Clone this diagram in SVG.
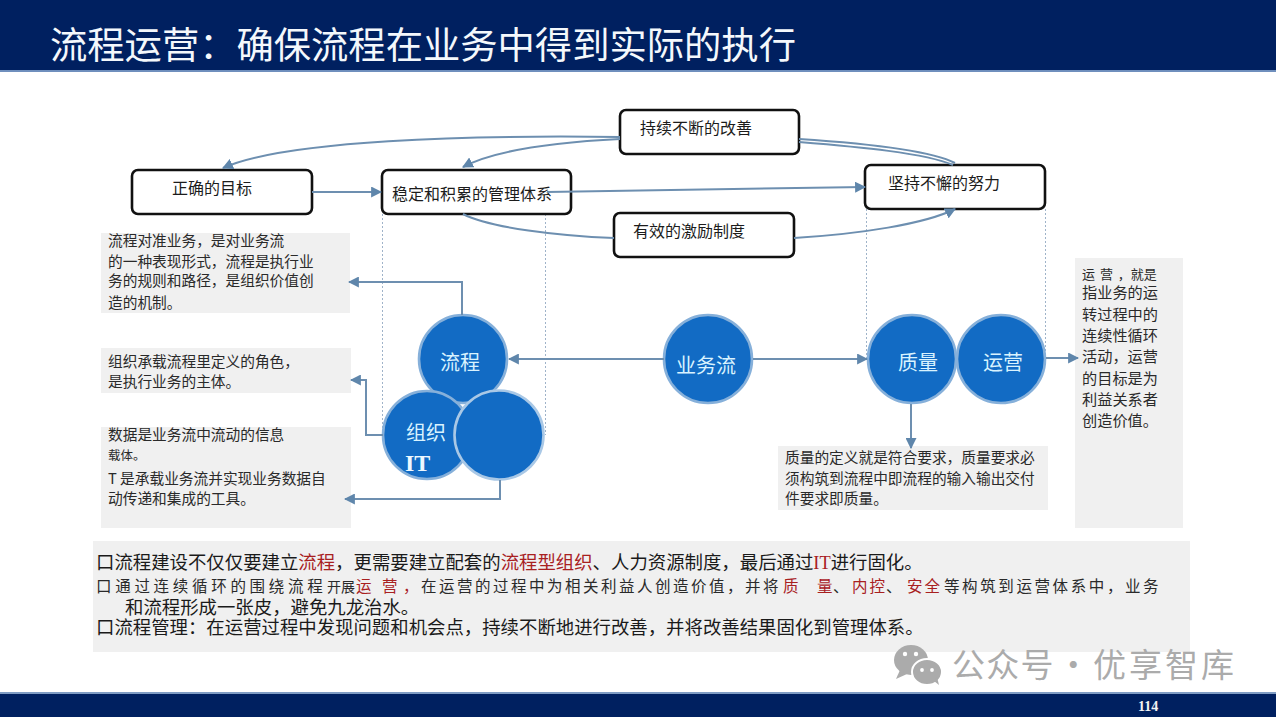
<svg xmlns="http://www.w3.org/2000/svg" width="1276" height="717" viewBox="0 0 1276 717">
<style>
text{font-family:"Noto Sans CJK SC","Liberation Sans",sans-serif;fill:#1c1c1c}
.box{fill:#fff;stroke:#111;stroke-width:2.6}
.bl{font-size:16px}
.note{fill:#f0f0f0}
.nt{font-size:14.7px;fill:#2a2a2a}
.c{fill:#126bc4;stroke:#86b0da;stroke-width:2.6}
.ct{font-size:20px;fill:#d9f3ff}
.l{fill:none;stroke:#6d8fb0;stroke-width:2}
.d{fill:none;stroke:#9fb3c9;stroke-width:1;stroke-dasharray:2 2}
.b{font-size:18.4px;fill:#1a1a1a}
.s{font-size:15.5px;fill:#2a2a2a}
.r{fill:#a8201f}
.wm{font-size:33px;fill:#ababab;letter-spacing:1.2px;word-spacing:-6.5px}
</style>
<defs>
<marker id="a" viewBox="0 0 10 10" refX="9" refY="5" markerWidth="11" markerHeight="11" markerUnits="userSpaceOnUse" orient="auto"><path d="M0 0L10 5L0 10z" fill="#5f86ab"/></marker>
</defs>
<rect width="1276" height="717" fill="#fff"/>
<g id="header"><rect width="1276" height="71" fill="#002060"/><rect y="70" width="1276" height="2" fill="#6f8fbd"/>
<text x="50" y="59" font-size="37.3" style="fill:#f4f8fc">流程运营：确保流程在业务中得到实际的执行</text></g>
<g id="footer"><rect y="693" width="1276" height="24" fill="#002060"/><rect y="692" width="1276" height="2" fill="#7f9cc4"/>
<text x="1138" y="711" font-size="14" font-weight="bold" style="font-family:'Liberation Serif',serif;fill:#f4f4f4">114</text></g>
<g id="notes-bg">
<rect class="note" x="101" y="233" width="249" height="80"/>
<rect class="note" x="101" y="348" width="250" height="45"/>
<rect class="note" x="101" y="427" width="250" height="101"/>
<rect class="note" x="778" y="446" width="270" height="64"/>
<rect class="note" x="1075" y="258" width="108" height="270"/>
<rect class="note" x="93" y="541" width="1097" height="111"/>
</g>
<g id="guides">
<path class="d" d="M382.500 214V435M545.500 214V435M866.500 209V359M1045.500 209V359"/>
</g>
<g id="n-mubiao"><rect class="box" x="132" y="170" width="180" height="44" rx="6"/><text class="bl" x="172" y="194">正确的目标</text></g>
<g id="n-tixi"><rect class="box" x="382" y="170" width="189" height="44" rx="6"/><text class="bl" x="392" y="200">稳定和积累的管理体系</text></g>
<g id="n-gaishan"><rect class="box" x="620" y="110" width="179" height="44" rx="6"/><text class="bl" x="640" y="134">持续不断的改善</text></g>
<g id="n-nuli"><rect class="box" x="865" y="165" width="180" height="44" rx="6"/><text class="bl" x="888" y="189">坚持不懈的努力</text></g>
<g id="n-jili"><rect class="box" x="614" y="213" width="180" height="44" rx="6"/><text class="bl" x="633" y="237">有效的激励制度</text></g>
<g id="n-liucheng"><circle class="c" cx="463" cy="359" r="44"/><text class="ct" x="440" y="370">流程</text></g>
<g id="n-zuzhi"><circle class="c" cx="427" cy="435" r="44"/><text class="ct" x="406" y="440">组织</text><text x="405" y="471" font-size="24" font-weight="bold" style="font-family:'Liberation Serif',serif;fill:#eef8ff">IT</text></g>
<g id="n-it"><circle class="c" cx="499" cy="435" r="44.500" style="stroke:#a9c8e6"/></g>
<g id="n-yewuliu"><circle class="c" cx="708" cy="359" r="44"/><text class="ct" x="676" y="373">业务流</text></g>
<g id="n-zhiliang"><circle class="c" cx="912" cy="359" r="44"/><text class="ct" x="898" y="370">质量</text></g>
<g id="n-yunying"><circle class="c" cx="1001" cy="359" r="44"/><text class="ct" x="983" y="370">运营</text></g>
<g id="connectors">
<path class="l" marker-end="url(#a)" d="M620 137C470 135 285 140 223 168"/>
<path class="l" marker-end="url(#a)" d="M620 139C560 142 495 150 463 167"/>
<path class="l" d="M799 139C860 143 930 150 955 163M799 142C860 147 925 153 953 165"/>
<path class="l" marker-end="url(#a)" d="M312 192H381"/>
<path class="l" marker-end="url(#a)" d="M547 192L865 187"/>
<path class="l" d="M463 214C490 228 560 236 614 238"/>
<path class="l" marker-end="url(#a)" d="M794 238C860 234 925 224 955 209"/>
<path class="l" marker-end="url(#a)" d="M462 315V282H349"/>
<path class="l" marker-end="url(#a)" d="M383 435H366V380H351"/>
<path class="l" marker-end="url(#a)" d="M500 480V499H345"/>
<path class="l" marker-end="url(#a)" d="M664 359H509"/>
<path class="l" marker-end="url(#a)" d="M753 359H867"/>
<path class="l" marker-end="url(#a)" d="M1046 358H1078"/>
<path class="l" marker-end="url(#a)" d="M911 404V448"/>
</g>
<g id="notes">
<text class="nt" x="108" y="246">流程对准业务，是对业务流</text>
<text class="nt" x="108" y="267">的一种表现形式，流程是执行业</text>
<text class="nt" x="108" y="286">务的规则和路径，是组织价值创</text>
<text class="nt" x="108" y="308">造的机制。</text>
<text class="nt" x="108" y="367">组织承载流程里定义的角色，</text>
<text class="nt" x="108" y="387">是执行业务的主体。</text>
<text class="nt" x="108" y="440">数据是业务流中流动的信息</text>
<text class="nt" x="108" y="460" style="font-size:12.5px">载体。</text>
<text class="nt" x="108" y="484">T 是承载业务流并实现业务数据自</text>
<text class="nt" x="108" y="504">动传递和集成的工具。</text>
<text class="nt" x="785" y="463">质量的定义就是符合要求，质量要求必</text>
<text class="nt" x="785" y="484">须构筑到流程中即流程的输入输出交付</text>
<text class="nt" x="785" y="504">件要求即质量。</text>
<text class="nt" x="1082" y="279" style="font-size:13px;word-spacing:2px">运 营 ，就是</text>
<text class="nt" x="1082" y="298" style="font-size:15.200px">指业务的运</text>
<text class="nt" x="1082" y="320" style="font-size:15.200px">转过程中的</text>
<text class="nt" x="1082" y="341" style="font-size:15.200px">连续性循环</text>
<text class="nt" x="1082" y="362" style="font-size:15.200px">活动，运营</text>
<text class="nt" x="1082" y="384" style="font-size:15.200px">的目标是为</text>
<text class="nt" x="1082" y="405" style="font-size:15.200px">利益关系者</text>
<text class="nt" x="1082" y="426" style="font-size:15.200px">创造价值。</text>
</g>
<g id="summary">
<text class="b" x="96" y="569">口流程建设不仅仅要建立<tspan class="r">流程</tspan>，更需要建立配套的<tspan class="r">流程型组织</tspan>、人力资源制度，最后通过<tspan class="r" style="font-family:'Liberation Serif',serif">IT</tspan>进行固化。</text>
<text class="s" x="96" y="592"><tspan style="letter-spacing:3.700px">口通过连续循环的围绕流程</tspan><tspan x="327" style="font-size:14px">开展</tspan><tspan class="r" x="356">运</tspan><tspan class="r" x="382">营</tspan><tspan class="r" x="403">，</tspan><tspan x="421" style="letter-spacing:2.500px">在运营的过程中为相关利益人创造价值，并将</tspan><tspan class="r" x="783">质</tspan><tspan class="r" x="817">量</tspan><tspan x="833">、</tspan><tspan class="r" x="852" style="letter-spacing:2px">内控</tspan><tspan x="886">、</tspan><tspan class="r" x="907" style="letter-spacing:2px">安全</tspan><tspan x="944" style="letter-spacing:2.600px">等构筑到运营体系中，业务</tspan></text>
<text class="b" x="125" y="614">和流程形成一张皮，避免九龙治水。</text>
<text class="b" x="96" y="634">口流程管理：在运营过程中发现问题和机会点，持续不断地进行改善，并将改善结果固化到管理体系。</text>
</g>
<g id="watermark">
<ellipse cx="911" cy="660" rx="17" ry="15" fill="#ababab"/><path d="M900 670l-4 9 11-5z" fill="#ababab"/>
<ellipse cx="927" cy="672" rx="15" ry="13" fill="#ababab" stroke="#fff" stroke-width="2"/><path d="M934 681l5 4-2-8z" fill="#ababab"/>
<circle cx="905" cy="654" r="2.200" fill="#fff"/><circle cx="916" cy="654" r="2.200" fill="#fff"/><circle cx="922" cy="670" r="1.900" fill="#fff"/><circle cx="932" cy="670" r="1.900" fill="#fff"/>
<text class="wm" x="952" y="677">公众号 · <tspan style="letter-spacing:3px">优享智库</tspan></text>
</g>
</svg>
